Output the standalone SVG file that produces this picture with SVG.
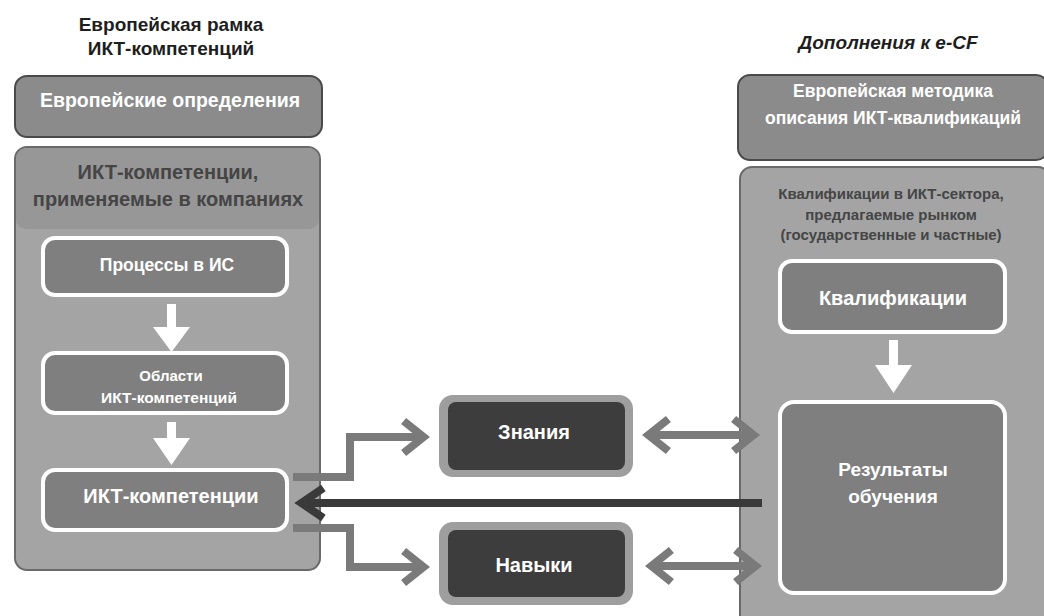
<svg xmlns="http://www.w3.org/2000/svg" width="1044" height="616" viewBox="0 0 1044 616">
<style>
text{font-family:"Liberation Sans",Arial,sans-serif;font-weight:bold;text-anchor:middle}
.title{font-size:19px;fill:#1e1e1e}
.ititle{font-size:19px;fill:#1e1e1e;font-style:italic}
.w{fill:#ffffff}
.dk{fill:#454545}
.top{fill:#8b8b8b;stroke:#4a4a4a;stroke-width:2}
.big{fill:#a4a4a4;stroke:#6a6a6a;stroke-width:2}
.band{fill:#979797}
.inner{fill:#7f7f7f;stroke:#ffffff;stroke-width:4}
.outer{fill:#9e9e9e}
.core{fill:#3d3d3d}
.warrow{fill:#ffffff}
.gline{fill:none;stroke:#7a7a7a;stroke-width:8;stroke-linejoin:miter}
.dline{fill:none;stroke:#3a3a3a;stroke-width:8}
</style>
<defs>
<marker id="gh" markerUnits="userSpaceOnUse" markerWidth="40" markerHeight="40" refX="0" refY="0" orient="auto-start-reverse" overflow="visible">
<path d="M-18.4,-16 L1.6,0 L-18.4,16" fill="none" stroke="#7a7a7a" stroke-width="8"/>
</marker>
<marker id="dh" markerUnits="userSpaceOnUse" markerWidth="40" markerHeight="40" refX="0" refY="0" orient="auto" overflow="visible">
<path d="M-20.4,-15 L1.6,0 L-20.4,15" fill="none" stroke="#3a3a3a" stroke-width="8"/>
</marker>
</defs>
<rect width="1044" height="616" fill="#ffffff"/>

<g id="left-title">
<text class="title" x="171" y="31">Европейская рамка</text>
<text class="title" x="171" y="55">ИКТ-компетенций</text>
</g>
<g id="right-title">
<text class="ititle" x="888" y="49">Дополнения к e-CF</text>
</g>

<g id="eu-definitions">
<rect class="top" x="15" y="76" width="307" height="61" rx="12"/>
<text class="w" x="170" y="107" style="font-size:19.5px">Европейские определения</text>
</g>

<g id="ict-in-companies">
<rect class="big" x="15" y="147" width="305" height="423" rx="12"/>
<path class="band" d="M16,159 a11,11 0 0 1 11,-11 h281 a11,11 0 0 1 11,11 v60 a10,10 0 0 1 -10,10 h-283 a10,10 0 0 1 -10,-10 z"/>
<text class="dk" x="168" y="179" style="font-size:20px">ИКТ-компетенции,</text>
<text class="dk" x="168" y="206" style="font-size:20px">применяемые в компаниях</text>
</g>

<g id="processes">
<rect class="inner" x="43" y="238" width="244" height="57" rx="12"/>
<text class="w" x="167" y="271" style="font-size:17.5px">Процессы в ИС</text>
</g>
<g id="areas">
<rect class="inner" x="43" y="353" width="244" height="60" rx="12"/>
<text class="w" x="171" y="381" style="font-size:15px">Области</text>
<text class="w" x="169" y="403" style="font-size:15.5px">ИКТ-компетенций</text>
</g>
<g id="ict-competences">
<rect class="inner" x="43" y="470" width="244" height="60" rx="12"/>
<text class="w" x="171" y="503" style="font-size:20px">ИКТ-компетенции</text>
</g>

<g id="eu-methodology">
<rect class="top" x="738" y="75" width="310" height="85" rx="12"/>
<text class="w" x="893" y="97" style="font-size:17.5px">Европейская методика</text>
<text class="w" x="893" y="124" style="font-size:17.5px">описания ИКТ-квалификаций</text>
</g>

<g id="market-qualifications">
<rect class="big" x="740" y="167" width="310" height="460" rx="12"/>
<text class="dk" x="891" y="199" style="font-size:15px">Квалификации в ИКТ-сектора,</text>
<text class="dk" x="891" y="220" style="font-size:15px">предлагаемые рынком</text>
<text class="dk" x="891" y="240" style="font-size:15px">(государственные и частные)</text>
</g>
<g id="qualifications">
<rect class="inner" x="780" y="261" width="225" height="71" rx="12"/>
<text class="w" x="893" y="305" style="font-size:20px">Квалификации</text>
</g>
<g id="learning-outcomes">
<rect class="inner" x="780" y="402" width="225" height="191" rx="14"/>
<text class="w" x="893" y="476" style="font-size:19px">Результаты</text>
<text class="w" x="893" y="503" style="font-size:19px">обучения</text>
</g>

<g id="knowledge">
<rect class="outer" x="439" y="395" width="194" height="82" rx="14"/>
<rect class="core" x="448" y="402" width="177" height="68" rx="8"/>
<text class="w" x="534" y="439" style="font-size:20px">Знания</text>
</g>
<g id="skills">
<rect class="outer" x="439" y="522" width="194" height="83" rx="14"/>
<rect class="core" x="448" y="530" width="177" height="67" rx="8"/>
<text class="w" x="534" y="572" style="font-size:20px">Навыки</text>
</g>

<g id="connectors">
<path class="warrow" d="M167,304 h9 v23 h14 l-18.5,25 l-18.5,-25 h14 z"/>
<path class="warrow" d="M167,422 h9 v16 h14 l-18.5,27 l-18.5,-27 h14 z"/>
<path class="warrow" d="M889,340 h9 v25 h14 l-18.5,28 l-18.5,-28 h14 z"/>
<path class="gline" d="M293,477 H350 V437 H422" marker-end="url(#gh)"/>
<path class="gline" d="M293,528 H350 V567 H422" marker-end="url(#gh)"/>
<path class="dline" d="M762,503 H303" marker-end="url(#dh)"/>
<path class="gline" d="M650,435 H752" marker-start="url(#gh)" marker-end="url(#gh)"/>
<path class="gline" d="M653,566 H754" marker-start="url(#gh)" marker-end="url(#gh)"/>
</g>
</svg>
